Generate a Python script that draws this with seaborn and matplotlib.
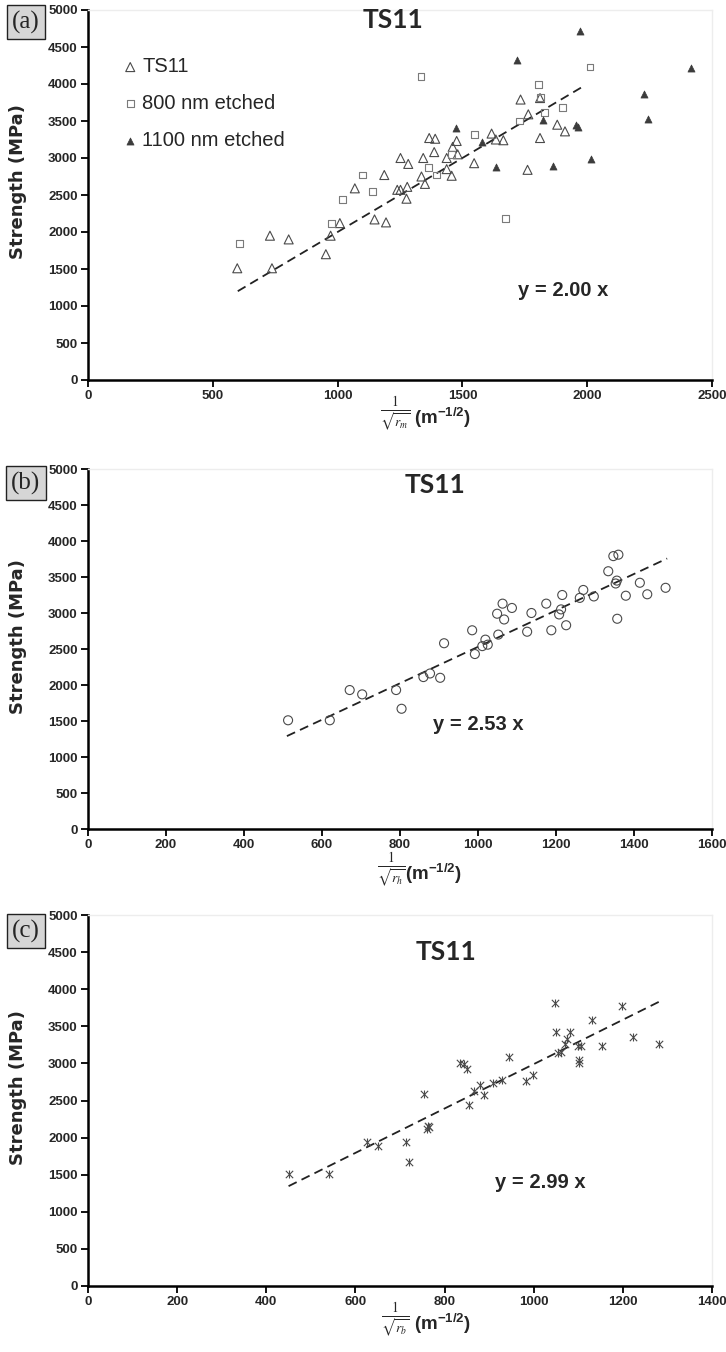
import numpy as np
import pandas as pd
import matplotlib
matplotlib.use("Agg")
import matplotlib.pyplot as plt
from matplotlib import font_manager
import seaborn as sns

# ---------------- data ----------------
# panel (a): strength vs 1/sqrt(r_m)
ts11_x = [598, 729, 737, 804, 953, 972, 1009, 1069, 1148, 1187, 1194, 1239, 1252, 1276, 1279,
          1252, 1283, 1336, 1350, 1343, 1367, 1391, 1387, 1437, 1437, 1457, 1461, 1477, 1481,
          1547, 1617, 1634, 1664, 1761, 1733, 1764, 1811, 1811, 1880, 1911]
ts11_y = [1510, 1950, 1510, 1900, 1700, 1950, 2120, 2590, 2170, 2770, 2130, 2570, 2570, 2450, 2610,
          3000, 2920, 2750, 2650, 3000, 3270, 3260, 3080, 3000, 2850, 2760, 3150, 3230, 3050,
          2930, 3330, 3250, 3240, 2840, 3790, 3590, 3810, 3270, 3450, 3360]
e800_x = [606, 976, 1019, 1100, 1140, 1334, 1363, 1397, 1457, 1550, 1674, 1728, 1804, 1813, 1828, 1901, 2011]
e800_y = [1850, 2120, 2440, 2770, 2550, 4100, 2870, 2770, 3050, 3320, 2180, 3500, 3990, 3820, 3620, 3680, 4230]
e1100_x = [1473, 1577, 1634, 1717, 1824, 1864, 1955, 1962, 1971, 2014, 2227, 2243, 2415]
e1100_y = [3410, 3220, 2880, 4330, 3520, 2890, 3440, 3420, 4710, 2990, 3870, 3530, 4210]
fit_a_x = [600, 1975]
slope_a = 2.00

# panel (b): strength vs 1/sqrt(r_h)
b_x = [513, 620, 671, 703, 790, 804, 860, 877, 903, 913, 985, 992, 1011, 1019, 1025, 1052, 1049,
       1067, 1063, 1087, 1126, 1137, 1175, 1188, 1208, 1213, 1216, 1226, 1261, 1270, 1297, 1334,
       1347, 1360, 1353, 1356, 1357, 1379, 1415, 1434, 1481]
b_y = [1510, 1510, 1930, 1870, 1930, 1670, 2110, 2160, 2100, 2580, 2760, 2430, 2540, 2630, 2560,
       2700, 2990, 2910, 3130, 3070, 2740, 3000, 3130, 2760, 2980, 3050, 3250, 2830, 3210, 3320,
       3230, 3580, 3790, 3810, 3410, 3450, 2920, 3240, 3420, 3260, 3350]
fit_b_x = [510, 1485]
slope_b = 2.53

# panel (c): strength vs 1/sqrt(r_b)
c_x = [450, 540, 625, 650, 714, 721, 753, 760, 762, 765, 835, 844, 850, 855, 866, 880, 889, 909,
       928, 945, 982, 999, 1048, 1050, 1055, 1062, 1071, 1075, 1081, 1100, 1105, 1102, 1102, 1131,
       1154, 1199, 1222, 1280]
c_y = [1510, 1510, 1940, 1890, 1945, 1675, 2590, 2120, 2160, 2140, 3000, 2990, 2920, 2440, 2625,
       2710, 2570, 2740, 2770, 3080, 2765, 2850, 3810, 3420, 3140, 3160, 3265, 3330, 3420, 3230,
       3240, 3040, 3000, 3580, 3240, 3780, 3355, 3265]
fit_c_x = [450, 1285]
slope_c = 2.99

y_ticks = [0, 500, 1000, 1500, 2000, 2500, 3000, 3500, 4000, 4500, 5000]
x_ticks_a = [0, 500, 1000, 1500, 2000, 2500]
x_ticks_b = [0, 200, 400, 600, 800, 1000, 1200, 1400, 1600]
x_ticks_c = [0, 200, 400, 600, 800, 1000, 1200, 1400]
legend_labels = ["TS11", "800 nm etched", "1100 nm etched"]
title_text = "TS11"

# ---------------- style ----------------
sns.set_style("ticks")
names = {f.name for f in font_manager.fontManager.ttflist}
tick_family = "Liberation Sans Narrow" if "Liberation Sans Narrow" in names else "Liberation Sans"
title_family = "Lato" if "Lato" in names else "Open Sans"
plt.rcParams["font.family"] = ["Liberation Sans", "DejaVu Sans"]
plt.rcParams["mathtext.fontset"] = "custom"
plt.rcParams["mathtext.bf"] = "Liberation Sans:bold"
plt.rcParams["mathtext.rm"] = "Liberation Sans"
plt.rcParams["mathtext.it"] = "Liberation Sans:italic"

W, H = 726, 1352
fig = plt.figure(figsize=(W / 100, H / 100), dpi=100)
fig.patch.set_facecolor("white")


def add_ax(left, top, right, bottom):
    return fig.add_axes([left / W, 1 - bottom / H, (right - left) / W, (bottom - top) / H])


ax_a = add_ax(88, 10, 712, 380)
ax_b = add_ax(88, 469, 712, 829)
ax_c = add_ax(88, 915, 712, 1286)

mk_col = "#4a4a4a"

# (a)
sns.scatterplot(x=ts11_x, y=ts11_y, ax=ax_a, marker="^", s=42, facecolor="none",
                edgecolor=mk_col, linewidth=0.8, label=legend_labels[0], zorder=3)
sns.scatterplot(x=e800_x, y=e800_y, ax=ax_a, marker="s", s=24, facecolor="none",
                edgecolor="#7a7a7a", linewidth=0.8, label=legend_labels[1], zorder=3)
sns.scatterplot(x=e1100_x, y=e1100_y, ax=ax_a, marker="^", s=26, facecolor="#3c3c3c",
                edgecolor="#3c3c3c", linewidth=0.5, label=legend_labels[2], zorder=3)
fx = np.array(fit_a_x, dtype=float)
sns.lineplot(x=fx, y=slope_a * fx, ax=ax_a, color="#222222", linewidth=1.3,
             linestyle=(0, (5, 3)), zorder=2)

# (b)
sns.scatterplot(x=b_x, y=b_y, ax=ax_b, marker="o", s=42, facecolor="none",
                edgecolor=mk_col, linewidth=0.8, zorder=3)
fx = np.array(fit_b_x, dtype=float)
sns.lineplot(x=fx, y=slope_b * fx, ax=ax_b, color="#222222", linewidth=1.3,
             linestyle=(0, (5, 3)), zorder=2)

# (c) asterisk-like markers
sns.scatterplot(x=c_x, y=c_y, ax=ax_c, marker="x", s=28, color=mk_col, linewidth=0.8, zorder=3)
sns.scatterplot(x=c_x, y=c_y, ax=ax_c, marker="|", s=40, color=mk_col, linewidth=0.8, zorder=3)
fx = np.array(fit_c_x, dtype=float)
sns.lineplot(x=fx, y=slope_c * fx, ax=ax_c, color="#222222", linewidth=1.3,
             linestyle=(0, (5, 3)), zorder=2)

leg = ax_a.legend(loc="upper left", bbox_to_anchor=(0.058, 0.872), frameon=False,
                  fontsize=14.5, handlelength=0.6, handletextpad=0.3, labelspacing=0.88,
                  borderpad=0, borderaxespad=0)


def style(ax, xticks, sub, frac_pos, unit_pos):
    ax.set_xlim(0, xticks[-1])
    ax.set_ylim(0, 5000)
    ax.set_xticks(xticks)
    ax.set_yticks(y_ticks)
    for s in ["left", "bottom"]:
        ax.spines[s].set_linewidth(1.8)
        ax.spines[s].set_color("black")
    for s in ["top", "right"]:
        ax.spines[s].set_visible(True)
        ax.spines[s].set_linewidth(1.0)
        ax.spines[s].set_color("#ededed")
    ax.tick_params(direction="out", length=5, width=1.3, color="black", pad=2.5)
    for lab in ax.get_xticklabels() + ax.get_yticklabels():
        lab.set_fontfamily(tick_family)
        lab.set_fontweight("bold")
        lab.set_fontsize(9.5)
    ax.set_xlabel("")
    ax.set_ylabel("Strength (MPa)", fontfamily="DejaVu Sans", fontweight="bold", fontsize=13)
    ax.yaxis.set_label_coords(-0.097, 0.535)
    ax.grid(False)
    # x-axis label: fraction 1/sqrt(r) + unit
    ax.text(frac_pos[0], frac_pos[1], r"$\frac{1}{\sqrt{r_{%s}}}$" % sub, transform=ax.transAxes,
            ha="center", va="center", fontsize=14, math_fontfamily="stix")
    ax.text(unit_pos[0], unit_pos[1], r"$\mathbf{(m^{-1/2})}$", transform=ax.transAxes,
            ha="left", va="center", fontsize=13.5, math_fontfamily="custom")


style(ax_a, x_ticks_a, "m", (0.492, -0.09), (0.523, -0.103))
style(ax_b, x_ticks_b, "h", (0.487, -0.112), (0.508, -0.125))
style(ax_c, x_ticks_c, "b", (0.492, -0.09), (0.523, -0.103))

# titles
ax_a.text(0.489, 0.973, title_text, transform=ax_a.transAxes, ha="center", va="center",
          fontsize=19, fontweight="bold", fontfamily=title_family)
ax_b.text(0.556, 0.956, title_text, transform=ax_b.transAxes, ha="center", va="center",
          fontsize=19, fontweight="bold", fontfamily=title_family)
ax_c.text(0.574, 0.90, title_text, transform=ax_c.transAxes, ha="center", va="center",
          fontsize=19, fontweight="bold", fontfamily=title_family)

# equations
ax_a.text(1903, 1216, "y = 2.00 x", ha="center", va="center", fontsize=14.5, fontweight="bold")
ax_b.text(1000, 1450, "y = 2.53 x", ha="center", va="center", fontsize=14.5, fontweight="bold")
ax_c.text(1014, 1392, "y = 2.99 x", ha="center", va="center", fontsize=14.5, fontweight="bold")

# panel letters
for lbl, cy in [("(a)", 22), ("(b)", 483), ("(c)", 931)]:
    fig.text(26 / W, 1 - cy / H, lbl, ha="center", va="center", fontsize=18,
             fontfamily="Liberation Serif",
             bbox=dict(boxstyle="square,pad=0.2", fc="#d6d6d6", ec="#222222", lw=1.0))

fig.savefig("out.png", dpi=100, facecolor="white")
